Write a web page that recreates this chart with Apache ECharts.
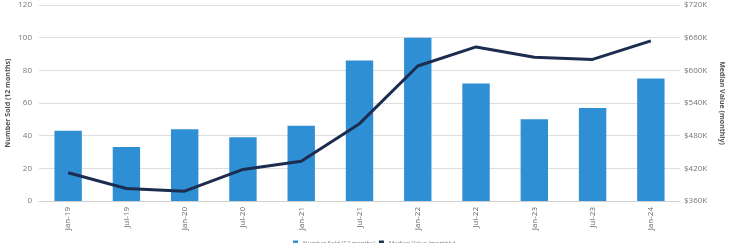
<!DOCTYPE html>
<html><head><meta charset="utf-8">
<script src="https://cdn.jsdelivr.net/npm/echarts@6/dist/echarts.min.js"></script>
<style>html,body{margin:0;padding:0;background:#fff}#c{width:729px;height:243px}</style>
</head><body><div id="c"></div>
<script>
const categories = ["Jan-19","Jul-19","Jan-20","Jul-20","Jan-21","Jul-21","Jan-22","Jul-22","Jan-23","Jul-23","Jan-24"];
const numberSold = [43,33,44,39,46,86,100,72,50,57,75];
const medianValue = [412,383,378,418,433,502,608,643,624,620,654];
const leftTicks = {min:0,max:120,interval:20};
const rightTicks = {min:360,max:720,interval:60};

const chart = echarts.init(document.getElementById('c'));
const font = "'Open Sans', 'Noto Sans', sans-serif";
chart.setOption({
  animation:false,
  grid:{left:39,right:49,top:5,bottom:42,containLabel:false,outerBoundsMode:'none'},
  legend:{bottom:-8,left:288,itemWidth:5,itemHeight:5,itemGap:4,
    textStyle:{fontSize:6,color:'#777',fontFamily:font},
    data:[{name:'Number Sold (12 months)',icon:'rect'},{name:'Median Value (monthly)',icon:'rect'}]},
  xAxis:{type:'category',data:categories,boundaryGap:true,
    axisLine:{lineStyle:{color:'#d0d0d0'}},axisTick:{show:false},
    axisLabel:{rotate:90,fontSize:8,color:'#666',fontFamily:font,margin:6}},
  yAxis:[
    {type:'value',min:leftTicks.min,max:leftTicks.max,interval:leftTicks.interval,
     name:'Number Sold (12 months)',nameLocation:'middle',nameGap:28,nameMoveOverlap:false,
     nameTextStyle:{fontSize:7,fontWeight:'bold',color:'#555',fontFamily:font},
     axisLine:{show:false},axisTick:{show:false},
     axisLabel:{fontSize:8,color:'#777',fontFamily:font,margin:7},
     splitLine:{lineStyle:{color:'#dedede',width:1}}},
    {type:'value',min:rightTicks.min,max:rightTicks.max,interval:rightTicks.interval,position:'right',
     name:'Median Value (monthly)',nameLocation:'middle',nameGap:38,nameRotate:-90,nameMoveOverlap:false,
     nameTextStyle:{fontSize:7,fontWeight:'bold',color:'#555',fontFamily:font},
     axisLine:{show:false},axisTick:{show:false},
     axisLabel:{fontSize:8,color:'#777',fontFamily:font,margin:4,formatter:v=>'$'+v+'K'},
     splitLine:{show:false}}
  ],
  series:[
    {name:'Number Sold (12 months)',type:'bar',data:numberSold,barWidth:'47%',
     itemStyle:{color:'#2f8fd4'}},
    {name:'Median Value (monthly)',type:'line',yAxisIndex:1,data:medianValue,
     showSymbol:false,symbol:'none',lineStyle:{color:'#1c2d4f',width:3},itemStyle:{color:'#1c2d4f'}}
  ]
});
</script></body></html>
